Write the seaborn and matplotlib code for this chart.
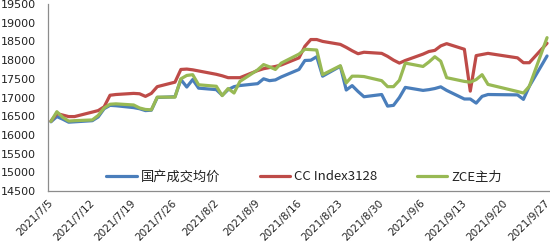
import matplotlib
matplotlib.use("Agg")
import matplotlib.pyplot as plt
import matplotlib.dates as mdates
import pandas as pd
import seaborn as sns

# ---------------- data ----------------
dates = [
    "2021-07-05", "2021-07-06", "2021-07-07", "2021-07-08", "2021-07-09",
    "2021-07-12", "2021-07-13", "2021-07-14", "2021-07-15", "2021-07-16",
    "2021-07-19", "2021-07-20", "2021-07-21", "2021-07-22", "2021-07-23",
    "2021-07-26", "2021-07-27", "2021-07-28", "2021-07-29", "2021-07-30",
    "2021-08-02", "2021-08-03", "2021-08-04", "2021-08-05", "2021-08-06",
    "2021-08-09", "2021-08-10", "2021-08-11", "2021-08-12", "2021-08-13",
    "2021-08-16", "2021-08-17", "2021-08-18", "2021-08-19", "2021-08-20",
    "2021-08-23", "2021-08-24", "2021-08-25", "2021-08-26", "2021-08-27",
    "2021-08-30", "2021-08-31",
    "2021-09-01", "2021-09-02", "2021-09-03",
    "2021-09-06", "2021-09-07", "2021-09-08", "2021-09-09", "2021-09-10",
    "2021-09-13", "2021-09-14", "2021-09-15", "2021-09-16", "2021-09-17",
    "2021-09-22", "2021-09-23", "2021-09-24", "2021-09-27",
]

domestic = [
    16350, 16490, 16420, 16340, 16350,
    16380, 16480, 16700, 16790, 16780,
    16730, 16700, 16650, 16660, 17000,
    17020, 17480, 17280, 17480, 17250,
    17210, 17060, 17210, 17290, 17320,
    17370, 17500, 17450, 17470, 17550,
    17750, 17990, 17997, 18090, 17570,
    17836, 17200, 17318, 17160, 17020,
    17080, 16770,
    16790, 17000, 17270,
    17190, 17210, 17240, 17285, 17190,
    16960, 16960, 16850, 17030, 17080,
    17070, 16950, 17300, 18110,
]

cc_index = [
    16370, 16570, 16530, 16490, 16490,
    16610, 16650, 16750, 17060, 17080,
    17110, 17100, 17030, 17110, 17290,
    17410, 17750, 17760, 17740, 17710,
    17620, 17580, 17530, 17530, 17530,
    17720, 17770, 17800, 17830, 17870,
    18060, 18370, 18550, 18550, 18500,
    18420, 18340, 18250, 18170, 18210,
    18180, 18100,
    18000, 17920, 17990,
    18160, 18230, 18260, 18380, 18440,
    18290, 17170, 18120, 18150, 18180,
    18060, 17930, 17930, 18450,
]

zce = [
    16360, 16620, 16470, 16370, 16380,
    16400, 16520, 16720, 16820, 16830,
    16800, 16720, 16680, 16670, 17010,
    17010, 17500, 17590, 17610, 17340,
    17300, 17050, 17240, 17120, 17430,
    17740, 17880, 17820, 17750, 17920,
    18160, 18290, 18280, 18270, 17610,
    17850, 17390, 17570, 17570, 17560,
    17450, 17290,
    17290, 17460, 17920,
    17830, 17950, 18090, 17970, 17530,
    17430, 17410, 17480, 17610, 17350,
    17160, 17120, 17300, 18600,
]

series_names = ["国产成交均价", "CC Index3128", "ZCE主力"]
series_colors = ["#4A7EBB", "#BE4B48", "#98B954"]
y_ticks = list(range(14500, 20000, 500))
x_tick_dates = ["2021-07-05", "2021-07-12", "2021-07-19", "2021-07-26",
                "2021-08-02", "2021-08-09", "2021-08-16", "2021-08-23",
                "2021-08-30", "2021-09-06", "2021-09-13", "2021-09-20",
                "2021-09-27"]
x_start, x_end = "2021-07-05", "2021-09-28"

# ---------------- frame ----------------
wide = pd.DataFrame({
    "date": pd.to_datetime(dates),
    series_names[0]: domestic,
    series_names[1]: cc_index,
    series_names[2]: zce,
})
# Excel date axis: points sit between the day tick marks
wide["x"] = wide["date"] + pd.Timedelta(hours=12)
long = wide.melt(id_vars=["date", "x"], value_vars=series_names,
                 var_name="series", value_name="value")

# ---------------- plot ----------------
sns.set_theme(style="white")
plt.rcParams["font.family"] = ["DejaVu Sans", "Noto Sans CJK SC"]

fig = plt.figure(figsize=(5.5, 2.46), dpi=100)
ax = fig.add_axes([48 / 550, 1 - 191 / 246, 502 / 550, 187 / 246])

sns.lineplot(data=long, x="x", y="value", hue="series",
             hue_order=series_names, palette=series_colors,
             linewidth=2.3, ax=ax, legend=False)

ax.set_xlim(pd.Timestamp(x_start), pd.Timestamp(x_end))
ax.set_ylim(y_ticks[0], y_ticks[-1])
ax.set_yticks(y_ticks)
ax.set_yticklabels([str(v) for v in y_ticks], fontsize=8, color="#222222")

tick_ts = pd.to_datetime(x_tick_dates)
ax.set_xticks(mdates.date2num(tick_ts))
ax.set_xticklabels([f"{d.year}/{d.month}/{d.day}" for d in tick_ts],
                   rotation=45, ha="right", va="top",
                   rotation_mode="anchor", fontsize=7.5, color="#222222")

ax.set_xlabel("")
ax.set_ylabel("")
for side in ["top", "right"]:
    ax.spines[side].set_visible(False)
for side in ["left", "bottom"]:
    ax.spines[side].set_color("#8C8C8C")
    ax.spines[side].set_linewidth(0.9)
ax.tick_params(axis="both", which="major", direction="out", length=4,
               width=0.9, color="#8C8C8C")
ax.tick_params(axis="y", pad=5)
ax.tick_params(axis="x", pad=1)
ax.grid(False)

handles = ax.get_lines()[:3]
leg = ax.legend(handles, series_names, loc="center", ncol=3,
                bbox_to_anchor=(0.51, 0.075), frameon=False,
                handlelength=2.3, columnspacing=3.0, handletextpad=0.3,
                prop={"family": ["Noto Sans CJK SC", "DejaVu Sans"], "size": 9.5})
for t in leg.get_texts():
    t.set_color("#222222")

fig.savefig("out.png", dpi=100)
